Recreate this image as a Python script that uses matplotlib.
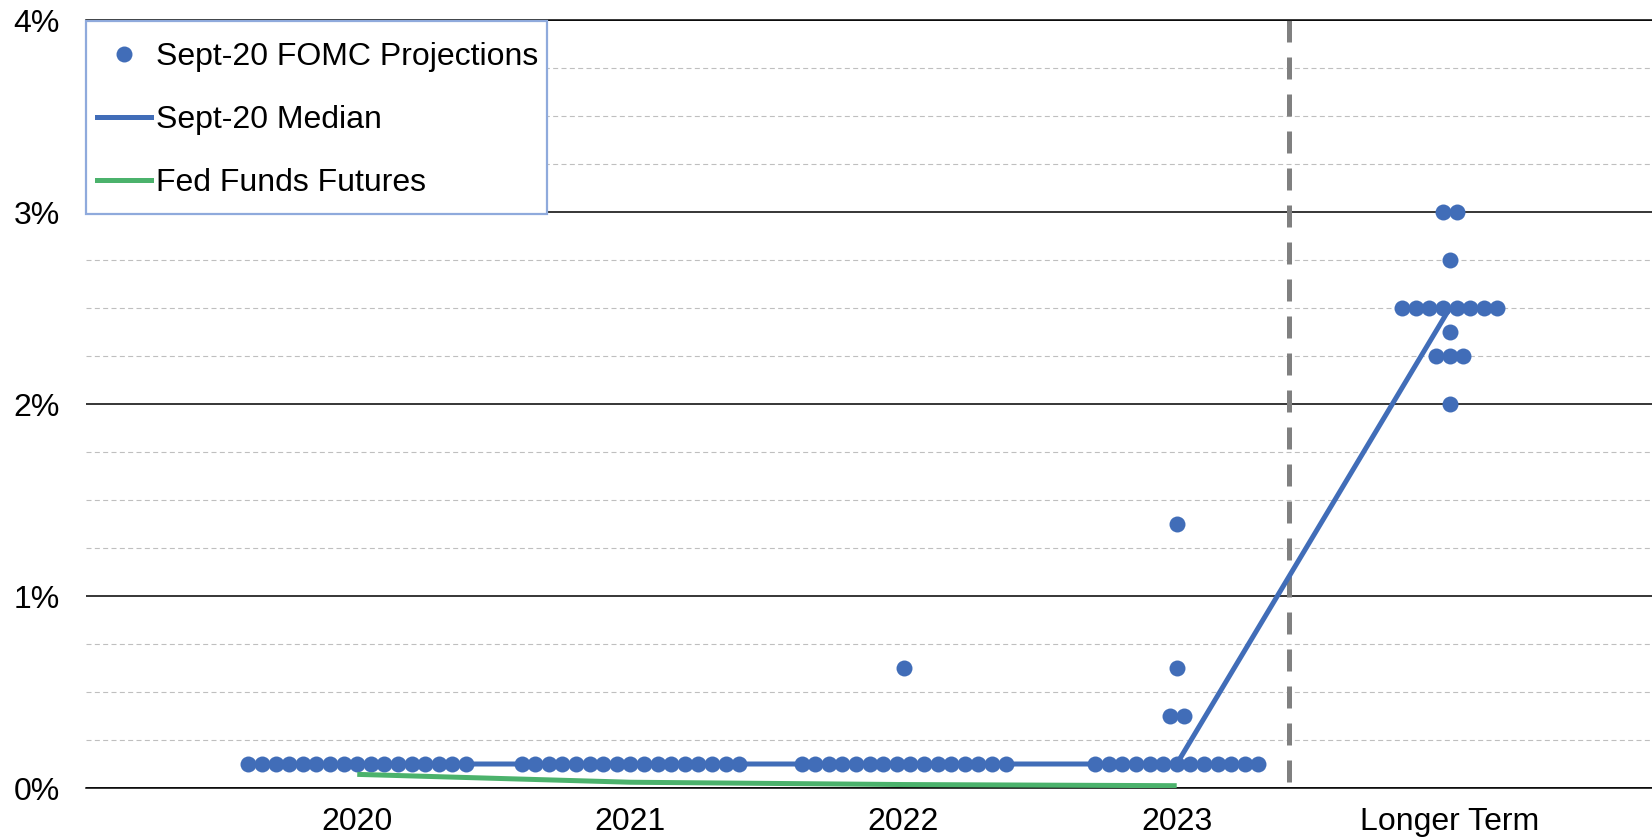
import matplotlib
matplotlib.use('Agg')
import matplotlib.pyplot as plt
from matplotlib.lines import Line2D
from matplotlib.patches import Rectangle
from matplotlib.ticker import MultipleLocator

plt.rcParams['font.family'] = ['Liberation Sans', 'DejaVu Sans']

# ---------- data ----------
categories = ['2020', '2021', '2022', '2023', 'Longer Term']

# FOMC dot plot (Sept-20): category index, rate level (%), number of dots at that level
dot_cat = [0, 1, 2, 2, 3, 3, 3, 3, 4, 4, 4, 4, 4, 4]
dot_rate = [0.125, 0.125, 0.125, 0.625, 0.125, 0.375, 0.625, 1.375,
            2.0, 2.25, 2.375, 2.5, 2.75, 3.0]
dot_count = [17, 17, 16, 1, 13, 2, 1, 1, 1, 3, 1, 8, 1, 2]

median_vals = [0.125, 0.125, 0.125, 0.125, 2.5]
futures_vals = [0.071, 0.030, 0.018, 0.012]

# ---------- style ----------
BLUE = '#416DB8'
GREEN = '#4BB26C'
DOT_STEP = 0.0498          # horizontal spacing between dots (category units)
DIVIDER_X = 3.41           # separator between yearly and longer-run projections
FS = 23
W, H = 1652, 840

fig = plt.figure(figsize=(W / 100, H / 100), dpi=100)
ax = fig.add_axes([86 / W, 52 / H, 1 - 86 / W, 768 / H])

# build dot positions: spread each group horizontally around the category centre
xs, ys = [], []
for c, r, n in zip(dot_cat, dot_rate, dot_count):
    for k in range(n):
        xs.append(c + (k - (n - 1) / 2) * DOT_STEP)
        ys.append(r)

ax.plot(xs, ys, 'o', ls='none', ms=11.5, color=BLUE, mec='none', zorder=3)
ax.plot(range(len(median_vals)), median_vals, color=BLUE, lw=3.6,
        solid_capstyle='butt', zorder=4)
ax.plot(range(len(futures_vals)), futures_vals, color=GREEN, lw=3.6,
        solid_capstyle='butt', zorder=4)

# vertical separator, dashes start from the top like the original
ax.axvline(DIVIDER_X, ymin=1, ymax=0, color='#808080', lw=3.6,
           dashes=(4.4, 3.0), zorder=2)

ax.set_xlim(-0.993, 4.74)
ax.set_ylim(0, 4)

ax.set_xticks(range(len(categories)))
ax.set_xticklabels(categories)
ax.set_yticks(range(5))
ax.set_yticklabels([f'{v}%' for v in range(5)])
ax.yaxis.set_minor_locator(MultipleLocator(0.25))
ax.tick_params(axis='both', which='both', length=0, labelsize=FS, colors='black')
ax.tick_params(axis='y', pad=19)
ax.tick_params(axis='x', pad=14)

ax.grid(which='major', axis='y', color='black', lw=1.1, zorder=0)
ax.grid(which='minor', axis='y', color='#BFBFBF', lw=0.8,
        dashes=(4.5, 3.0), zorder=0)
ax.grid(which='both', axis='x', visible=False)
ax.set_axisbelow(True)

for side in ['left', 'right']:
    ax.spines[side].set_visible(False)
for side in ['bottom', 'top']:
    ax.spines[side].set_color('black')
    ax.spines[side].set_linewidth(1.1)

# legend box drawn separately so its size can match the original
ax.add_patch(Rectangle((86 / W, 1 - 214 / H), (547 - 86) / W, (214 - 21) / H,
                       transform=fig.transFigure, facecolor='white',
                       edgecolor='#8FAADC', lw=1.6, clip_on=False, zorder=9))

handles = [
    Line2D([], [], marker='o', ls='none', ms=11.5, color=BLUE, mec='none'),
    Line2D([], [], color=BLUE, lw=3.6),
    Line2D([], [], color=GREEN, lw=3.6),
]
labels = ['Sept-20 FOMC Projections', 'Sept-20 Median', 'Fed Funds Futures']
leg = ax.legend(handles, labels, loc='upper left',
                bbox_to_anchor=(97 / W, 1 - 42 / H), bbox_transform=fig.transFigure,
                borderaxespad=0, borderpad=0, fontsize=FS, handlelength=1.7,
                handletextpad=0.16, labelspacing=1.04, frameon=False, numpoints=1)
leg.set_zorder(10)

fig.savefig('out.png', dpi=100)
